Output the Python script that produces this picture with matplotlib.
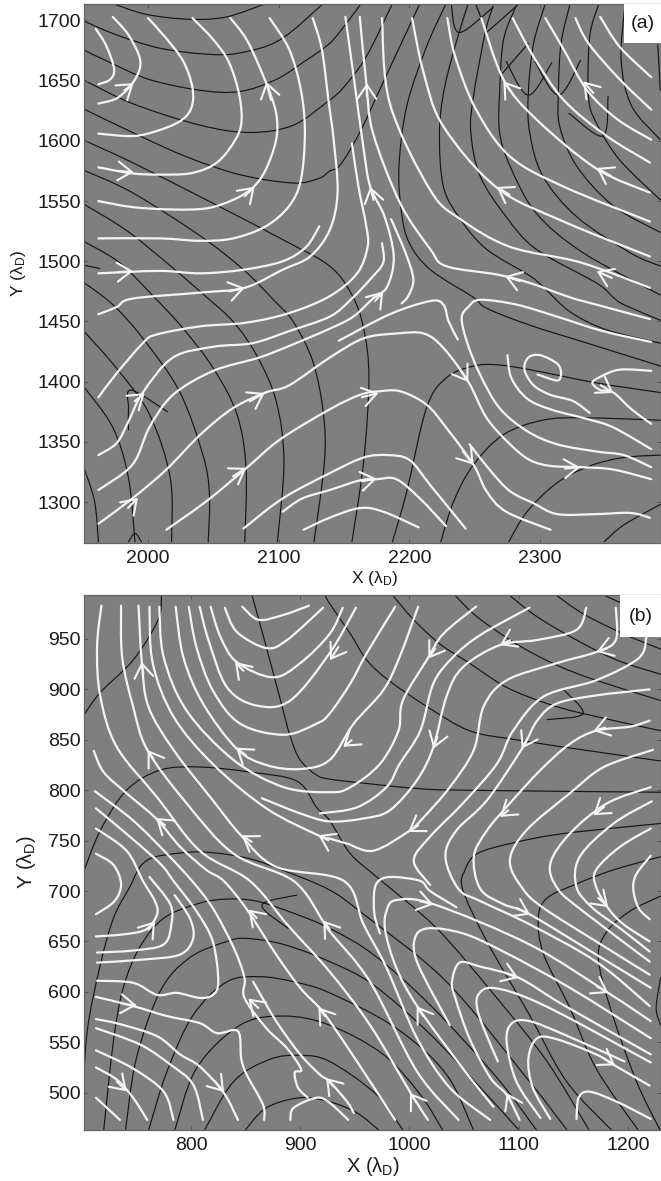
import matplotlib
matplotlib.use('Agg')
import numpy as np
import matplotlib.pyplot as plt
from matplotlib.path import Path
from matplotlib.patches import PathPatch, Rectangle

plt.rcParams['font.family'] = ['Liberation Sans', 'DejaVu Sans']
plt.rcParams['mathtext.default'] = 'regular'

GRAY = '#7f7f7f'
WHITE = '#f4f4f4'
BLACK = '#161616'

# panel (a): field lines, contours, arrow heads (tip x, tip y, tail x, tail y)
a_white = [
    [(1960,1693),(1968,1679),(1974,1660),(1971,1651),(1962,1647)],
    [(1973,1703),(1985,1688),(1994,1667),(1990,1651),(1977,1636),(1962,1631)],
    [(2000,1702),(2014,1685),(2027,1666),(2034,1644),(2033,1627),(2024,1616),(2006,1608),(1988,1604),(1962,1606)],
    [(2034,1702),(2050,1684),(2062,1665),(2070,1637),(2071,1612),(2062,1593),(2050,1580),(2032,1573),(2009,1572),(1988,1573),(1962,1578)],
    [(2063,1702),(2076,1683),(2090,1649),(2098,1623),(2098,1601),(2090,1576),(2080,1561),(2065,1551),(2045,1544),(2019,1543),(1988,1545),(1962,1550)],
    [(2093,1702),(2108,1676),(2117,1642),(2120,1607),(2117,1568),(2108,1546),(2090,1529),(2065,1519),(2040,1517),(2009,1519),(1962,1519)],
    [(2126,1702),(2133,1676),(2138,1634),(2142,1601),(2145,1557),(2139,1526),(2124,1504),(2103,1493),(2074,1478),(2040,1474),(1988,1469),(1976,1462),(1962,1456)],
    [(2131,1529),(2121,1512),(2103,1500),(2073,1493),(2040,1490),(2009,1492),(1962,1490)],
    [(2156,1598),(2161,1562),(2167,1529),(2168,1512),(2160,1490),(2139,1471),(2108,1457),(2075,1449),(2040,1446),(2006,1439),(1996,1432),(1976,1407),(1962,1387)],
    [(2179,1515),(2180,1499),(2170,1485),(2155,1468),(2139,1454),(2108,1442),(2080,1432),(2050,1429),(2019,1420),(1996,1391),(1985,1367),(1976,1349),(1962,1339)],
    [(2151,1703),(2157,1656),(2165,1593),(2170,1562),(2181,1537),(2188,1504),(2183,1479),(2172,1469),(2157,1454),(2139,1444),(2111,1431),(2085,1420),(2050,1409),(2019,1389),(2001,1362),(1988,1331),(1962,1310)],
    [(2186,1535),(2197,1507),(2203,1485),(2199,1471),(2194,1465)],
    [(1962,1282),(1988,1303),(2014,1327),(2040,1356),(2065,1378),(2090,1391),(2108,1397),(2139,1420),(2165,1436),(2190,1440),(2211,1440),(2226,1428),(2245,1400),(2259,1370),(2277,1348),(2292,1335),(2308,1330),(2331,1329),(2356,1327),(2385,1319)],
    [(2385,1433),(2348,1442),(2313,1454),(2282,1464),(2254,1468),(2245,1462),(2240,1453),(2244,1433),(2254,1406),(2269,1378),(2290,1359),(2313,1348),(2343,1342),(2364,1339),(2385,1329)],
    [(2014,1277),(2045,1301),(2075,1328),(2101,1352),(2139,1377),(2162,1389),(2177,1392),(2193,1392),(2213,1381),(2228,1362),(2249,1331),(2259,1309),(2274,1292),(2308,1277)],
    [(2073,1278),(2103,1303),(2139,1324),(2165,1337),(2183,1339),(2200,1335),(2216,1314),(2243,1278)],
    [(2103,1292),(2118,1303),(2139,1310),(2162,1318),(2175,1319),(2190,1319),(2208,1303),(2228,1280)],
    [(2119,1277),(2139,1287),(2162,1295),(2180,1292),(2207,1279)],
    [(2146,1434),(2185,1456),(2216,1467),(2226,1464),(2230,1450),(2237,1435)],
    [(2246,1348),(2262,1326),(2277,1309),(2295,1299),(2313,1290),(2343,1290),(2369,1291),(2384,1287)],
    [(2298,1406),(2313,1401),(2316,1407),(2313,1415),(2300,1422),(2291,1420),(2288,1410),(2295,1397),(2308,1389),(2325,1384),(2338,1374)],
    [(2275,1422),(2278,1403),(2290,1386),(2308,1377),(2336,1369),(2356,1362),(2385,1344)],
    [(2385,1409),(2361,1410),(2346,1404),(2340,1399),(2346,1393),(2356,1391),(2370,1377),(2385,1365)],
    [(2346,1703),(2361,1678),(2385,1653)],
    [(2327,1702),(2337,1681),(2361,1651),(2385,1626)],
    [(2304,1702),(2318,1676),(2336,1642),(2359,1618),(2385,1601)],
    [(2279,1702),(2295,1670),(2318,1634),(2351,1604),(2384,1582)],
    [(2255,1702),(2272,1651),(2297,1618),(2343,1577),(2384,1557)],
    [(2229,1702),(2235,1670),(2251,1626),(2277,1587),(2318,1562),(2384,1533)],
    [(2202,1702),(2211,1656),(2226,1612),(2267,1561),(2318,1533),(2384,1504)],
    [(2179,1702),(2185,1631),(2216,1559),(2239,1535),(2277,1512),(2331,1499),(2384,1478)],
    [(2162,1703),(2167,1648),(2172,1607),(2193,1548),(2216,1510),(2228,1496),(2267,1489),(2292,1482),(2323,1470),(2343,1464),(2384,1452)],
]
a_arrows = [
    (1989,1648,1982,1642),(1989,1574,1978,1575),(2090.5,1649,2094,1634),(2081.6,1562,2074,1554),
    (2074,1478,2062.4,1475),(1988.5,1491.8,1977,1491),(2167.4,1648,2167.4,1637),(2170,1562,2172.5,1551),
    (2180,1475,2173.7,1467),(2271.9,1649.4,2279.5,1638.4),(2333,1649.4,2340.7,1639.8),(2343.3,1577.5,2354,1571),
    (2266.8,1561.7,2276.5,1555.4),(2273.2,1487.6,2284.6,1483.5),(2343.3,1491.8,2354.8,1486.2),(1997.4,1390.6,1989.8,1383.7),
    (2089.2,1390.6,2077.8,1383.7),(2075.2,1328.4,2065,1321.4),(1992.3,1303.5,1984.7,1295.2),(2176.3,1390.6,2163.5,1387),
    (2245.1,1399.7,2238.8,1410),(2249,1331.1,2240.8,1342.2),(2175,1319.5,2163.5,1317.3),(2330.6,1328.9,2319.1,1327.8),
    (2356,1390.6,2346.4,1397),
]
a_black = [
    [(1973,1714),(1999,1705),(2032,1701),(2060,1703),(2090,1714)],
    [(1950,1700),(1976,1688),(2009,1677),(2045,1672),(2070,1673),(2101,1684),(2134,1714)],
    [(1950,1676),(1971,1665),(2001,1651),(2040,1642),(2070,1641),(2098,1651),(2121,1667),(2139,1681),(2152,1698),(2163,1714)],
    [(1950,1651),(1988,1631),(2040,1613),(2078,1607),(2111,1613),(2139,1634),(2150,1645),(2167,1670),(2187,1714)],
    [(1950,1627),(1988,1607),(2029,1587),(2070,1572),(2111,1565),(2131,1569),(2139,1575),(2147,1580),(2162,1607),(2183,1656),(2208,1714)],
    [(1950,1601),(1988,1582),(2050,1548),(2103,1518),(2139,1496),(2156,1472),(2165,1444),(2169,1403),(2165,1334),(2156,1267)],
    [(1950,1576),(1988,1557),(2040,1521),(2073,1493),(2096,1468),(2111,1450),(2126,1417),(2134,1375),(2135,1334),(2127,1267)],
    [(1950,1548),(1983,1526),(2014,1499),(2045,1470),(2065,1450),(2083,1422),(2098,1384),(2104,1334),(2099,1267)],
    [(1950,1517),(1978,1499),(2004,1471),(2027,1444),(2050,1411),(2068,1373),(2075,1328),(2074,1267)],
    [(1950,1483),(1973,1464),(1996,1436),(2024,1392),(2042,1339),(2047,1306),(2046,1267)],
    [(1950,1443),(1976,1411),(2001,1373),(2017,1320),(2018,1267)],
    [(1950,1397),(1973,1362),(1985,1320),(1990,1267)],
    [(1950,1331),(1959,1301),(1962,1267)],
    [(1950,1497),(1963,1494)],
    [(1985,1360),(1985,1378),(1987,1393),(2015,1375)],
    [(1985,1267),(1990,1274),(1995,1267)],
    [(2228,1714),(2213,1678),(2198,1629),(2192,1579),(2194,1540),(2200,1515),(2216,1493),(2249,1470),(2259,1461),(2292,1447),(2333,1433),(2392,1413)],
    [(2245,1714),(2238,1690),(2227,1645),(2223,1607),(2226,1562),(2239,1535),(2259,1510),(2292,1488),(2302,1479),(2323,1458),(2351,1443),(2392,1432)],
    [(2264,1712),(2258,1690),(2249,1637),(2247,1607),(2254,1571),(2274,1537),(2297,1510),(2343,1482),(2356,1470),(2364,1464),(2392,1451)],
    [(2282,1713),(2272,1684),(2269,1640),(2269,1607),(2277,1579),(2297,1540),(2333,1507),(2392,1472)],
    [(2304,1714),(2295,1681),(2291,1640),(2292,1607),(2302,1571),(2328,1537),(2369,1507),(2392,1496)],
    [(2323,1714),(2316,1681),(2314,1640),(2315,1612),(2328,1579),(2356,1546),(2392,1524)],
    [(2345,1714),(2338,1687),(2337,1637),(2343,1615),(2361,1584),(2392,1551)],
    [(2365,1714),(2362,1667),(2370,1629),(2392,1601)],
    [(2390,1680),(2392,1642)],
    [(2232,1714),(2238,1690),(2264,1711)],
    [(2259,1690),(2283,1713)],
    [(2251,1713),(2259,1690)],
    [(2271,1656),(2291,1681)],
    [(2274,1666),(2291,1638),(2309,1665)],
    [(2296,1666),(2314,1638),(2331,1667)],
    [(2322,1623),(2348,1604),(2352,1637)],
    [(2224,1267),(2234,1301),(2249,1331),(2272,1356),(2302,1368),(2333,1370),(2392,1368)],
    [(2276,1267),(2290,1292),(2313,1316),(2338,1330),(2364,1337),(2392,1339)],
    [(2349,1267),(2364,1281),(2392,1298)],
    [(2187,1267),(2198,1309),(2213,1378),(2228,1403),(2249,1413),(2267,1414),(2292,1410),(2343,1399),(2392,1391)],
]

# panel (b)
b_white = [
    [(847,982),(862,969),(885,974),(908,983)],
    [(831,981),(842,957),(869,941),(888,949),(921,981)],
    [(818,982),(827,952),(842,927),(875,912),(900,926),(927,955),(939,981)],
    [(808,982),(816,949),(833,902),(860,884),(891,889),(927,936),(951,981)],
    [(798,982),(805,942),(820,899),(845,866),(885,855),(915,866),(927,876),(946,906),(961,936),(987,982)],
    [(786,982),(793,932),(811,886),(842,841),(869,825),(900,821),(927,830),(949,866),(976,899),(991,932),(1008,982)],
    [(771,982),(775,932),(796,879),(839,830),(885,803),(927,798),(946,803),(973,826),(990,859),(994,889),(1017,931),(1031,955),(1061,982)],
    [(762,982),(765,926),(784,873),(820,826),(869,782),(917,755),(927,752),(943,747),(967,740),(999,759),(1013,773),(1037,803),(1059,840),(1068,883),(1089,909),(1135,926),(1171,937),(1189,949),(1189,981)],
    [(865,792),(900,777),(927,769),(958,772),(982,780),(1007,810),(1022,843),(1034,893),(1049,922),(1083,944),(1117,949),(1153,959),(1162,981)],
    [(918,777),(952,783),(979,803),(991,826),(1010,859),(1022,906),(1040,932),(1065,954),(1110,981)],
    [(1217,952),(1210,931),(1171,909),(1123,893),(1095,859),(1080,826),(1049,787),(1019,754),(1004,730),(1019,706)],
    [(1220,900),(1171,894),(1135,886),(1117,869),(1103,841),(1071,790),(1043,760),(1033,734),(1045,702),(1065,690),(1110,667),(1171,630),(1220,586)],
    [(1220,869),(1202,863),(1171,859),(1147,846),(1120,820),(1092,787),(1071,760),(1059,734),(1065,702),(1086,687),(1110,677),(1171,637),(1221,604)],
    [(1223,840),(1178,823),(1147,797),(1107,760),(1092,730),(1104,702),(1123,683),(1171,650),(1220,617)],
    [(1221,803),(1181,787),(1147,757),(1129,727),(1136,702),(1159,680),(1220,630)],
    [(1222,789),(1187,767),(1156,734),(1153,704),(1168,683),(1193,663),(1220,640)],
    [(1221,762),(1193,744),(1171,721),(1171,704),(1182,683),(1196,667),(1220,650)],
    [(1221,735),(1208,717),(1205,702),(1210,683),(1220,672)],
    [(1077,486),(1049,524),(1007,586),(988,624),(978,660),(979,680),(988,691),(1022,687),(1110,647),(1182,599),(1221,571)],
    [(1037,567),(1008,627),(1005,653),(1017,663),(1049,658),(1086,640),(1147,604),(1221,554)],
    [(1101,473),(1089,498),(1074,515),(1055,554),(1042,594),(1039,610),(1046,629),(1065,625),(1100,614),(1141,587),(1221,538)],
    [(1081,531),(1068,564),(1062,584),(1063,597),(1074,604),(1101,597),(1141,577),(1221,530)],
    [(1120,475),(1098,511),(1089,551),(1094,569),(1110,571),(1141,558),(1197,531)],
    [(1129,474),(1113,505),(1109,534),(1117,554),(1135,553),(1171,538),(1188,527),(1220,507)],
    [(1153,474),(1155,495),(1165,501),(1190,491),(1221,474)],
    [(973,658),(968,677),(968,701),(973,711),(985,714),(1010,710),(1019,700),(1043,684)],
    [(718,983),(714,942),(717,893),(732,843),(769,793),(808,740),(854,710),(888,667),(927,620),(964,567),(1001,500),(1017,473)],
    [(736,983),(737,932),(747,883),(760,840),(796,787),(839,737),(894,710),(921,670),(927,660),(964,610),(1007,521),(1045,473)],
    [(752,983),(755,927),(761,883),(784,840),(820,790),(846,755),(878,724),(940,710),(958,667),(979,624),(1007,554),(1037,505),(1074,473)],
    [(711,839),(720,818),(741,797),(768,772),(790,744),(814,721),(830,710),(851,682),(878,637),(900,604),(917,585),(927,571),(952,531),(987,473)],
    [(712,799),(747,770),(778,737),(801,710),(820,683),(839,644),(849,614),(849,594),(869,564),(888,544),(901,523),(895,520),(898,505),(907,495)],
    [(713,782),(744,754),(772,727),(784,710),(805,680),(820,650),(825,610),(820,597),(808,594),(787,599),(769,597),(747,609),(714,611)],
    [(713,762),(741,740),(756,710),(767,690),(769,677),(759,662),(738,657),(713,655)],
    [(762,714),(781,687),(782,667),(775,647),(747,641),(714,639)],
    [(785,696),(799,673),(802,653),(790,637),(756,632),(714,629)],
    [(713,737),(729,726),(736,707),(730,690),(713,677)],
    [(857,610),(878,571),(900,538),(918,518),(927,511),(943,491),(949,480)],
    [(891,473),(894,485),(915,495),(927,490),(944,473)],
    [(713,595),(747,586),(778,576),(808,569),(824,559),(843,561),(846,534),(851,518),(866,488),(867,473)],
    [(713,573),(735,568),(769,556),(790,538),(808,526),(830,500),(843,473)],
    [(713,564),(753,548),(781,528),(802,508),(811,473)],
    [(713,542),(747,524),(775,501),(784,473)],
    [(713,525),(732,513),(747,495),(760,473)],
    [(713,495),(735,473)],
]
b_arrows = [
    (754.9,927.3,756.4,915.7),(840.3,927.3,848,918.4),(760.3,839.7,765.5,831.4),(841.3,842.3,850.4,834.7),
    (768,772.5,776.2,765.3),(846.4,755.3,855.6,748.7),(916.7,755.3,925.8,750.4),(927.3,929,935,942),
    (1017.4,930.6,1023.5,940.5),(1083,943.8,1092.2,948.8),(1171.5,937.2,1180.7,940.5),(939.5,843,947.1,849.6),
    (1022,841.3,1025.6,852.9),(1102.9,841.3,1108,851.2),(1168.5,858.8,1179.2,862.2),(1083,773.5,1090.6,780.1),
    (1168.5,775.2,1178.3,783.4),(999,758.6,1008.2,765.2),(767.1,670,761,661.7),(852.6,681.6,860.2,673.3),
    (921.2,670.7,927.3,661.7),(852.6,593.3,861.7,584),(916.7,584.7,922.8,575.8),(923.7,514.6,930.4,506.3),
    (750.3,586.7,738.1,588),(741.1,501.4,732,511.3),(830.3,500.7,822,511.3),(1022,686.6,1009.7,689.9),
    (1110.5,676.6,1098.3,683.2),(1182.2,683.9,1173,693.2),(1099.8,613.8,1087.6,618.8),(1182.2,598.9,1171.5,605.5),
    (1188.3,527.2,1177.6,534.4),(1006.7,585.7,1012.8,575.8),(1000.6,499.7,1006.7,489.8),(1089.1,499.7,1093.7,489.8),
]
b_black = [
    [(773,993),(770,969),(747,929),(717,897),(701,873)],
    [(856,993),(869,942),(882,889),(891,853),(900,830),(915,815),(927,811),(958,807),(1004,802),(1049,800),(1230,798)],
    [(701,717),(717,760),(741,800),(772,820),(808,823),(854,818),(897,809),(915,783),(927,770),(946,737),(970,714),(1025,663),(1080,594),(1126,531),(1165,462)],
    [(701,491),(705,561),(717,627),(729,673),(743,702),(759,730),(793,738),(820,738),(854,732),(888,719),(927,701),(958,677),(1034,610),(1110,511),(1145,462)],
    [(720,462),(729,551),(738,604),(753,644),(775,673),(808,688),(833,692),(860,690),(894,678),(927,663),(967,637),(1019,587),(1080,515),(1117,462)],
    [(740,462),(750,534),(772,601),(799,634),(833,650),(851,653),(885,647),(927,630),(967,607),(1019,558),(1065,505),(1101,462)],
    [(761,462),(778,521),(802,577),(833,610),(863,615),(894,610),(927,599),(988,564),(1034,518),(1059,462)],
    [(785,462),(805,524),(845,567),(885,576),(927,567),(976,538),(1010,498),(1031,462)],
    [(812,462),(839,511),(872,533),(900,537),(927,531),(970,498),(994,463)],
    [(849,462),(869,485),(900,495),(927,491),(952,480),(973,462)],
    [(897,696),(865,686),(889,663)],
    [(985,993),(1004,969),(1028,945),(1055,926),(1089,902),(1126,886),(1159,876),(1230,859)],
    [(1042,993),(1062,972),(1098,945),(1135,924),(1171,909),(1230,889)],
    [(1092,993),(1117,972),(1153,949),(1190,929),(1230,915)],
    [(1135,993),(1159,975),(1196,955),(1230,940)],
    [(1179,993),(1202,982),(1230,970)],
    [(923,993),(927,985),(946,955),(961,929),(981,909),(1016,883),(1055,859),(1098,850),(1159,840),(1230,829)],
    [(1140,901),(1159,876),(1126,870)],
    [(1230,767),(1141,757),(1092,747),(1062,737),(1051,721),(1049,701),(1071,650),(1110,577),(1144,511),(1186,462)],
    [(1230,734),(1187,721),(1153,707),(1126,693),(1118,673),(1123,637),(1147,584),(1171,524),(1210,462)],
    [(1230,695),(1202,680),(1181,660),(1173,634),(1184,584),(1208,511),(1230,462)],
    [(1230,614),(1226,584),(1230,567)],
]

a_xticks = [2000, 2100, 2200, 2300]
a_yticks = [1300, 1350, 1400, 1450, 1500, 1550, 1600, 1650, 1700]
b_xticks = [800, 900, 1000, 1100, 1200]
b_yticks = [500, 550, 600, 650, 700, 750, 800, 850, 900, 950]


def smooth(ax, pts, color, lw):
    # catmull-rom through the read points, drawn as bezier segments
    p = np.array(pts, dtype=float)
    verts = [p[0]]
    codes = [Path.MOVETO]
    for i in range(len(p) - 1):
        p0 = p[max(i - 1, 0)]
        p1, p2 = p[i], p[i + 1]
        p3 = p[min(i + 2, len(p) - 1)]
        verts += [p1 + (p2 - p0) / 6, p2 - (p3 - p1) / 6, p2]
        codes += [Path.CURVE4] * 3
    ax.add_patch(PathPatch(Path(verts, codes), fill=False, ec=color, lw=lw, capstyle='round', joinstyle='round'))


def panel(box, xlim, ylim, xticks, yticks, white, black, arrows):
    W, H = 661.0, 1181.0
    l, t, r, b = box
    ax = fig.add_axes([l / W, 1 - b / H, (r - l) / W, (b - t) / H], facecolor=GRAY)
    for line in black:
        smooth(ax, line, BLACK, 0.85)
    for line in white:
        smooth(ax, line, WHITE, 1.6)
    for tx, ty, sx, sy in arrows:
        ax.annotate('', xy=(tx, ty), xytext=(sx, sy),
                    arrowprops=dict(arrowstyle='->,head_length=1.0,head_width=0.68', color=WHITE,
                                    lw=1.5, shrinkA=0, shrinkB=0, mutation_scale=10))
    ax.set_xlim(xlim)
    ax.set_ylim(ylim)
    ax.set_xticks(xticks)
    ax.set_yticks(yticks)
    ax.tick_params(direction='in', length=3, width=0.7, color='#555555', top=True, right=True,
                   labelsize=14, labelcolor='#1a1a1a')
    ax.tick_params(axis='x', pad=5)
    ax.tick_params(axis='y', pad=2)
    for s in ax.spines.values():
        s.set_color('#666666')
        s.set_linewidth(0.9)
    return ax


fig = plt.figure(figsize=(6.61, 11.81), dpi=100, facecolor='white')

ax_a = panel((83.5, 4, 661, 543), (1950.6, 2392.5), (1266, 1713.7), a_xticks, a_yticks, a_white, a_black, a_arrows)
ax_b = panel((83.5, 595, 661, 1130.3), (701.6, 1230.4), (462.7, 993.6), b_xticks, b_yticks, b_white, b_black, b_arrows)

ax_a.add_patch(Rectangle((0.9355, 0.9275), 0.0645, 0.0725, transform=ax_a.transAxes, fc='white', ec='none', zorder=5))
ax_a.text(0.9678, 0.9636, '(a)', transform=ax_a.transAxes, fontsize=14, ha='center', va='center', color='#1a1a1a', zorder=6)
ax_b.add_patch(Rectangle((0.9295, 0.9215), 0.0705, 0.0785, transform=ax_b.transAxes, fc='white', ec='none', zorder=5))
ax_b.text(0.9647, 0.9607, '(b)', transform=ax_b.transAxes, fontsize=14, ha='center', va='center', color='#1a1a1a', zorder=6)

fig.text(375 / 661, 1 - 578 / 1181, 'X (λ$_{D}$)', fontsize=12.5, ha='center', va='center', color='#1a1a1a')
fig.text(18 / 661, 1 - 273 / 1181, 'Y (λ$_{D}$)', fontsize=12.5, rotation=90, ha='center', va='center', color='#1a1a1a')
fig.text(373 / 661, 1 - 1167 / 1181, 'X (λ$_{D}$)', fontsize=14.5, ha='center', va='center', color='#1a1a1a')
fig.text(27 / 661, 1 - 862 / 1181, 'Y (λ$_{D}$)', fontsize=14.5, rotation=90, ha='center', va='center', color='#1a1a1a')

fig.savefig('out.png', dpi=100)
